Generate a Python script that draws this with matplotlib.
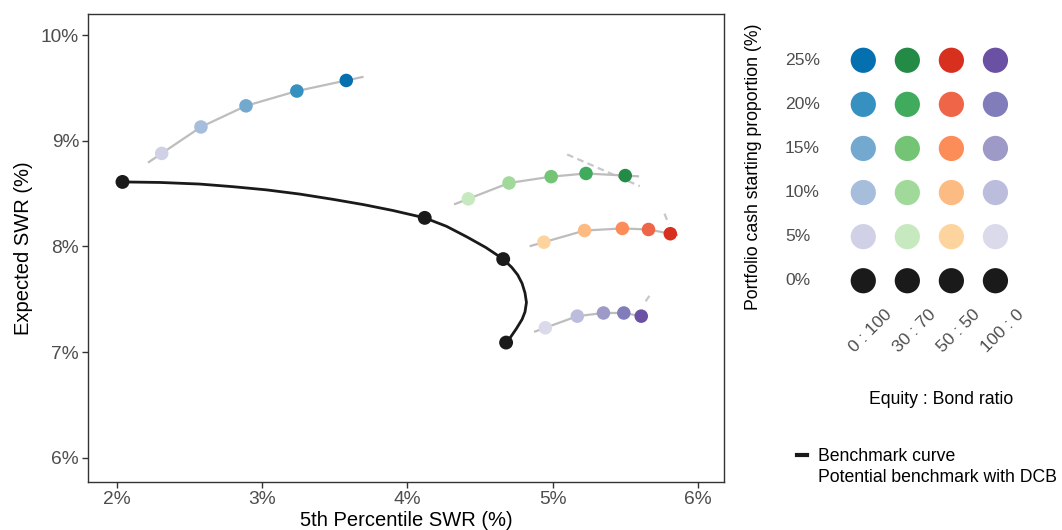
import numpy as np
import matplotlib.pyplot as plt
from matplotlib.lines import Line2D
from matplotlib.transforms import blended_transform_factory, ScaledTranslation

plt.rcParams['font.family'] = ['Liberation Sans', 'DejaVu Sans']

# ---- data ----
cash_levels = ['0%', '5%', '10%', '15%', '20%', '25%']
ratio_labels = ['0 : 100', '30 : 70', '50 : 50', '100 : 0']

# benchmark (0% cash) points and the smooth curve through them
bench_x = [2.04, 4.12, 4.66, 4.68]
bench_y = [8.61, 8.27, 7.88, 7.09]
curve_x = [2.04, 2.30, 2.57, 2.80, 3.03, 3.26, 3.49, 3.70, 3.90, 4.12, 4.27, 4.41, 4.54,
           4.66, 4.72, 4.76, 4.79, 4.81, 4.82, 4.81, 4.79, 4.75, 4.71, 4.68]
curve_y = [8.61, 8.605, 8.59, 8.565, 8.535, 8.495, 8.445, 8.395, 8.34, 8.27, 8.19, 8.09, 7.99,
           7.88, 7.80, 7.73, 7.65, 7.56, 7.47, 7.38, 7.31, 7.22, 7.14, 7.09]

# 5% .. 25% cash, per equity:bond ratio
p5_eq0 = [2.31, 2.58, 2.89, 3.24, 3.58]
exp_eq0 = [8.88, 9.13, 9.33, 9.47, 9.57]
p5_eq30 = [4.42, 4.70, 4.99, 5.23, 5.50]
exp_eq30 = [8.45, 8.60, 8.66, 8.69, 8.67]
p5_eq50 = [4.94, 5.22, 5.48, 5.66, 5.81]
exp_eq50 = [8.04, 8.15, 8.17, 8.16, 8.12]
p5_eq100 = [4.95, 5.17, 5.35, 5.49, 5.61]
exp_eq100 = [7.23, 7.34, 7.37, 7.37, 7.34]

# potential benchmark with DCB (faint dashed pieces)
dcb_eq30_x = [5.10, 5.60]
dcb_eq30_y = [8.87, 8.57]
dcb_eq50_x = [5.77, 5.80]
dcb_eq50_y = [8.31, 8.21]
dcb_eq100_x = [5.64, 5.67]
dcb_eq100_y = [7.48, 7.54]

palettes = [
    ['#d0d1e6', '#a6bddb', '#74a9cf', '#3690c0', '#0570b0'],
    ['#c7e9c0', '#a1d99b', '#74c476', '#41ab5d', '#238b45'],
    ['#fdd49e', '#fdbb84', '#fc8d59', '#ef6548', '#d7301f'],
    ['#dadaeb', '#bcbddc', '#9e9ac8', '#807dba', '#6a51a3'],
]
black = '#1a1a1a'
grey_txt = '#4d4d4d'

series = [(p5_eq0, exp_eq0), (p5_eq30, exp_eq30), (p5_eq50, exp_eq50), (p5_eq100, exp_eq100)]
dcb = [(dcb_eq30_x, dcb_eq30_y), (dcb_eq50_x, dcb_eq50_y), (dcb_eq100_x, dcb_eq100_y)]

fig = plt.figure(figsize=(10.62, 5.30), dpi=100)

# ---- main panel ----
ax = fig.add_axes([0.0829, 0.0906, 0.5989, 0.883])

def extended(xs, ys, frac=0.35):
    # lengthen the connector a little past the end points, like the smoother did
    xs = np.asarray(xs, float)
    ys = np.asarray(ys, float)
    x0 = xs[0] - frac * (xs[1] - xs[0])
    y0 = ys[0] - frac * (ys[1] - ys[0])
    x1 = xs[-1] + frac * (xs[-1] - xs[-2])
    y1 = ys[-1] + frac * (ys[-1] - ys[-2])
    return np.r_[x0, xs, x1], np.r_[y0, ys, y1]

for (xs, ys), cols in zip(series, palettes):
    ex, ey = extended(xs, ys)
    ax.plot(ex, ey, color='#bdbdbd', lw=1.6, zorder=2, solid_capstyle='butt',
            solid_joinstyle='round')
    ax.scatter(xs, ys, s=95, c=cols, edgecolors='none', zorder=3)

for xs, ys in dcb:
    ax.plot(xs, ys, color='#c8c8c8', lw=1.6, ls=(0, (3, 2)), zorder=1)

ax.plot(curve_x, curve_y, color=black, lw=2.0, zorder=4, solid_joinstyle='round')
ax.scatter(bench_x, bench_y, s=100, c=black, edgecolors='none', zorder=5)

ax.set_xlim(1.803, 6.18)
ax.set_ylim(5.771, 10.199)
ax.set_xticks([2, 3, 4, 5, 6])
ax.set_xticklabels(['2%', '3%', '4%', '5%', '6%'])
ax.set_yticks([6, 7, 8, 9, 10])
ax.set_yticklabels(['6%', '7%', '8%', '9%', '10%'])
ax.tick_params(labelsize=13.8, colors='#333333', labelcolor=grey_txt, length=4, width=1, pad=2.5)
for sp in ax.spines.values():
    sp.set_color('#333333')
    sp.set_linewidth(1.0)
ax.set_xlabel('5th Percentile SWR (%)', fontsize=14.5, labelpad=2)
ax.set_ylabel('Expected SWR (%)', fontsize=14.5, labelpad=6)

# ---- colour key panel ----
ax2 = fig.add_axes([0.788, 0.4204, 0.1742, 0.5158])
for j, cols in enumerate(palettes):
    ax2.scatter([j + 1] * 6, range(6), s=330, c=[black] + cols, edgecolors='none')
ax2.set_xlim(0.4, 4.6)
ax2.set_ylim(-0.6, 5.6)
ax2.axis('off')

px = fig.dpi_scale_trans
ylab_tr = blended_transform_factory(fig.transFigure, ax2.transData)
for i, lab in enumerate(cash_levels):
    ax2.text(785 / 1062, i, lab, transform=ylab_tr, ha='left', va='center',
             fontsize=12.6, color=grey_txt)
xlab_tr = blended_transform_factory(ax2.transData, ax2.transAxes) + ScaledTranslation(0.21, 0.0, px)
for j, lab in enumerate(ratio_labels):
    ax2.text(j + 1, 0, lab, transform=xlab_tr, rotation=45, rotation_mode='anchor',
             ha='right', va='top', fontsize=12.6, color=grey_txt)

fig.text(941 / 1062, 1 - 400 / 530, 'Equity : Bond ratio', ha='center', va='center', fontsize=12.7)
fig.text(753 / 1062, 1 - 167 / 530, 'Portfolio cash starting proportion (%)', rotation=90,
         ha='center', va='center', fontsize=12.7)

handles = [Line2D([], [], color=black, lw=3),
           Line2D([], [], color='#c8c8c8', lw=1.6, ls='--', alpha=0)]
fig.legend(handles, ['Benchmark curve', 'Potential benchmark with DCB'],
           loc='upper left', bbox_to_anchor=(797 / 1062, 1 - 448 / 530),
           frameon=False, fontsize=12.7, handlelength=0.55, handletextpad=0.65,
           labelspacing=0.22, borderpad=0, borderaxespad=0)

fig.savefig('out.png', dpi=100)
